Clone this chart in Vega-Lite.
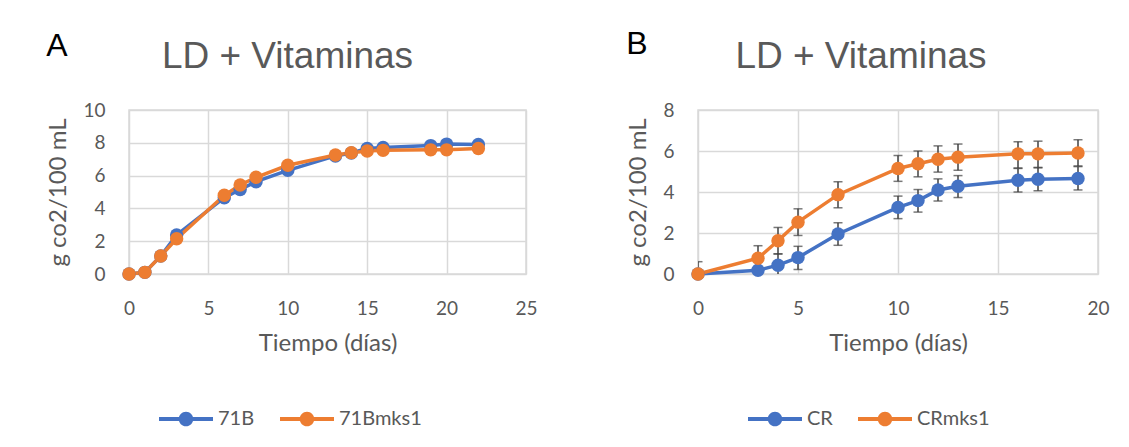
{
  "$schema": "https://vega.github.io/schema/vega-lite/v6.json",
  "padding": {"left": 46, "top": 28, "right": 0, "bottom": 0},
  "background": "white",
  "datasets": {
    "a": [
      {"t": 0, "s": "71B", "v": 0}, {"t": 1, "s": "71B", "v": 0.1}, {"t": 2, "s": "71B", "v": 1.1},
      {"t": 3, "s": "71B", "v": 2.38}, {"t": 6, "s": "71B", "v": 4.65}, {"t": 7, "s": "71B", "v": 5.15},
      {"t": 8, "s": "71B", "v": 5.63}, {"t": 10, "s": "71B", "v": 6.32}, {"t": 13, "s": "71B", "v": 7.2},
      {"t": 14, "s": "71B", "v": 7.38}, {"t": 15, "s": "71B", "v": 7.66}, {"t": 16, "s": "71B", "v": 7.72},
      {"t": 19, "s": "71B", "v": 7.83}, {"t": 20, "s": "71B", "v": 7.92}, {"t": 22, "s": "71B", "v": 7.9},
      {"t": 0, "s": "71Bmks1", "v": 0}, {"t": 1, "s": "71Bmks1", "v": 0.1}, {"t": 2, "s": "71Bmks1", "v": 1.1},
      {"t": 3, "s": "71Bmks1", "v": 2.15}, {"t": 6, "s": "71Bmks1", "v": 4.8}, {"t": 7, "s": "71Bmks1", "v": 5.43},
      {"t": 8, "s": "71Bmks1", "v": 5.9}, {"t": 10, "s": "71Bmks1", "v": 6.63}, {"t": 13, "s": "71Bmks1", "v": 7.26},
      {"t": 14, "s": "71Bmks1", "v": 7.4}, {"t": 15, "s": "71Bmks1", "v": 7.5}, {"t": 16, "s": "71Bmks1", "v": 7.54},
      {"t": 19, "s": "71Bmks1", "v": 7.57}, {"t": 20, "s": "71Bmks1", "v": 7.57}, {"t": 22, "s": "71Bmks1", "v": 7.65}
    ],
    "b": [
      {"t": 0, "s": "CR", "v": 0, "lo": 0, "hi": 0},
      {"t": 3, "s": "CR", "v": 0.18, "lo": -0.37, "hi": 0.73},
      {"t": 4, "s": "CR", "v": 0.43, "lo": -0.12, "hi": 0.98},
      {"t": 5, "s": "CR", "v": 0.8, "lo": 0.22, "hi": 1.35},
      {"t": 7, "s": "CR", "v": 1.95, "lo": 1.4, "hi": 2.5},
      {"t": 10, "s": "CR", "v": 3.25, "lo": 2.7, "hi": 3.8},
      {"t": 11, "s": "CR", "v": 3.58, "lo": 3.02, "hi": 4.12},
      {"t": 12, "s": "CR", "v": 4.1, "lo": 3.56, "hi": 4.64},
      {"t": 13, "s": "CR", "v": 4.28, "lo": 3.73, "hi": 4.8},
      {"t": 16, "s": "CR", "v": 4.57, "lo": 4.0, "hi": 5.15},
      {"t": 17, "s": "CR", "v": 4.62, "lo": 4.06, "hi": 5.18},
      {"t": 19, "s": "CR", "v": 4.66, "lo": 4.1, "hi": 5.24},
      {"t": 0, "s": "CRmks1", "v": 0, "lo": -0.6, "hi": 0.6},
      {"t": 3, "s": "CRmks1", "v": 0.77, "lo": 0.15, "hi": 1.38},
      {"t": 4, "s": "CRmks1", "v": 1.62, "lo": 0.98, "hi": 2.27},
      {"t": 5, "s": "CRmks1", "v": 2.53, "lo": 1.88, "hi": 3.18},
      {"t": 7, "s": "CRmks1", "v": 3.87, "lo": 3.23, "hi": 4.5},
      {"t": 10, "s": "CRmks1", "v": 5.15, "lo": 4.52, "hi": 5.78},
      {"t": 11, "s": "CRmks1", "v": 5.38, "lo": 4.74, "hi": 6.0},
      {"t": 12, "s": "CRmks1", "v": 5.6, "lo": 4.97, "hi": 6.25},
      {"t": 13, "s": "CRmks1", "v": 5.7, "lo": 5.06, "hi": 6.34},
      {"t": 16, "s": "CRmks1", "v": 5.86, "lo": 5.17, "hi": 6.45},
      {"t": 17, "s": "CRmks1", "v": 5.86, "lo": 5.2, "hi": 6.48},
      {"t": 19, "s": "CRmks1", "v": 5.9, "lo": 5.27, "hi": 6.55}
    ]
  },
  "hconcat": [
    {
      "title": {"text": "A", "anchor": "start", "frame": "bounds", "font": "Liberation Sans", "fontSize": 32, "fontWeight": "normal", "color": "#000000", "dy": 30},
      "vconcat": [
        {
          "width": 397,
          "height": 164,
          "title": {"text": "LD + Vitaminas", "anchor": "middle", "frame": "group", "dx": -40, "font": "Liberation Sans", "fontSize": 37, "fontWeight": "normal", "color": "#595959", "offset": 25},
          "data": {"name": "a"},
          "encoding": {
            "x": {"field": "t", "type": "quantitative", "scale": {"domain": [0, 25], "nice": false}, "axis": {"values": [0, 5, 10, 15, 20, 25], "title": "Tiempo (días)"}},
            "y": {"field": "v", "type": "quantitative", "scale": {"domain": [0, 10], "nice": false}, "axis": {"values": [0, 2, 4, 6, 8, 10], "title": "g co2/100 mL"}},
            "color": {"field": "s", "type": "nominal", "scale": {"domain": ["71B", "71Bmks1"], "range": ["#4472C4", "#ED7D31"]}, "legend": {"orient": "none", "legendX": 30, "legendY": 282, "direction": "horizontal", "title": null}}
          },
          "layer": [
            {"mark": {"type": "line", "strokeWidth": 3.5}},
            {"mark": {"type": "point", "filled": true, "size": 180, "opacity": 1}}
          ]
        }
      ]
    },
    {
      "title": {"text": "B", "anchor": "start", "frame": "bounds", "font": "Liberation Sans", "fontSize": 32, "fontWeight": "normal", "color": "#000000", "dy": 28},
      "vconcat": [
        {
          "width": 400,
          "height": 164,
          "title": {"text": "LD + Vitaminas", "anchor": "middle", "frame": "group", "dx": -37, "font": "Liberation Sans", "fontSize": 37, "fontWeight": "normal", "color": "#595959", "offset": 25},
          "data": {"name": "b"},
          "encoding": {
            "x": {"field": "t", "type": "quantitative", "scale": {"domain": [0, 20], "nice": false}, "axis": {"values": [0, 5, 10, 15, 20], "title": "Tiempo (días)"}}
          },
          "layer": [
            {"mark": {"type": "rule", "color": "#404040", "strokeWidth": 1.5, "clip": true}, "encoding": {"y": {"field": "lo", "type": "quantitative", "scale": {"domain": [0, 8], "nice": false}, "axis": {"values": [0, 2, 4, 6, 8], "title": "g co2/100 mL"}}, "y2": {"field": "hi"}}},
            {"mark": {"type": "tick", "orient": "horizontal", "color": "#404040", "thickness": 1.5, "size": 9, "clip": true}, "encoding": {"y": {"field": "hi", "type": "quantitative", "axis": {"values": [0, 2, 4, 6, 8], "title": "g co2/100 mL"}}}},
            {"mark": {"type": "tick", "orient": "horizontal", "color": "#404040", "thickness": 1.5, "size": 9, "clip": true}, "encoding": {"y": {"field": "lo", "type": "quantitative", "axis": {"values": [0, 2, 4, 6, 8], "title": "g co2/100 mL"}}}},
            {"mark": {"type": "line", "strokeWidth": 3.5}, "encoding": {"y": {"field": "v", "type": "quantitative", "axis": {"values": [0, 2, 4, 6, 8], "title": "g co2/100 mL"}}, "color": {"field": "s", "type": "nominal", "scale": {"domain": ["CR", "CRmks1"], "range": ["#4472C4", "#ED7D31"]}, "legend": {"orient": "none", "legendX": 50, "legendY": 282, "direction": "horizontal", "title": null}}}},
            {"mark": {"type": "point", "filled": true, "size": 180, "opacity": 1}, "encoding": {"y": {"field": "v", "type": "quantitative", "axis": {"values": [0, 2, 4, 6, 8], "title": "g co2/100 mL"}}, "color": {"field": "s", "type": "nominal", "scale": {"domain": ["CR", "CRmks1"], "range": ["#4472C4", "#ED7D31"]}, "legend": {"orient": "none", "legendX": 50, "legendY": 282, "direction": "horizontal", "title": null}}}}
          ]
        }
      ]
    }
  ],
  "resolve": {"scale": {"color": "independent"}, "legend": {"color": "independent"}},
  "spacing": 88,
  "config": {
    "view": {"stroke": "#d9d9d9", "strokeWidth": 1.5},
    "axis": {
      "domain": false, "ticks": false, "tickSize": 0, "labelFlush": false, "labelOverlap": false,
      "gridColor": "#d9d9d9", "gridWidth": 1.5,
      "labelFont": "Lato", "labelFontSize": 19, "labelColor": "#595959",
      "titleFont": "Lato", "titleFontSize": 24, "titleColor": "#595959", "titleFontWeight": "normal"
    },
    "axisX": {"labelPadding": 25, "titlePadding": 13},
    "axisY": {"labelPadding": 24, "titlePadding": 12},
    "legend": {
      "labelFont": "Lato", "labelFontSize": 20, "labelColor": "#595959",
      "symbolType": "M-1,-0.07L-0.24,-0.07L-0.24,0.07L-1,0.07Z M0.24,-0.07L1,-0.07L1,0.07L0.24,0.07Z M0.27,0 A0.27,0.27 0 1,1 -0.27,0 A0.27,0.27 0 1,1 0.27,0 Z",
      "symbolSize": 2916, "symbolStrokeWidth": 0, "symbolOpacity": 1,
      "labelOffset": 5, "columnPadding": 25, "padding": 0
    }
  }
}
